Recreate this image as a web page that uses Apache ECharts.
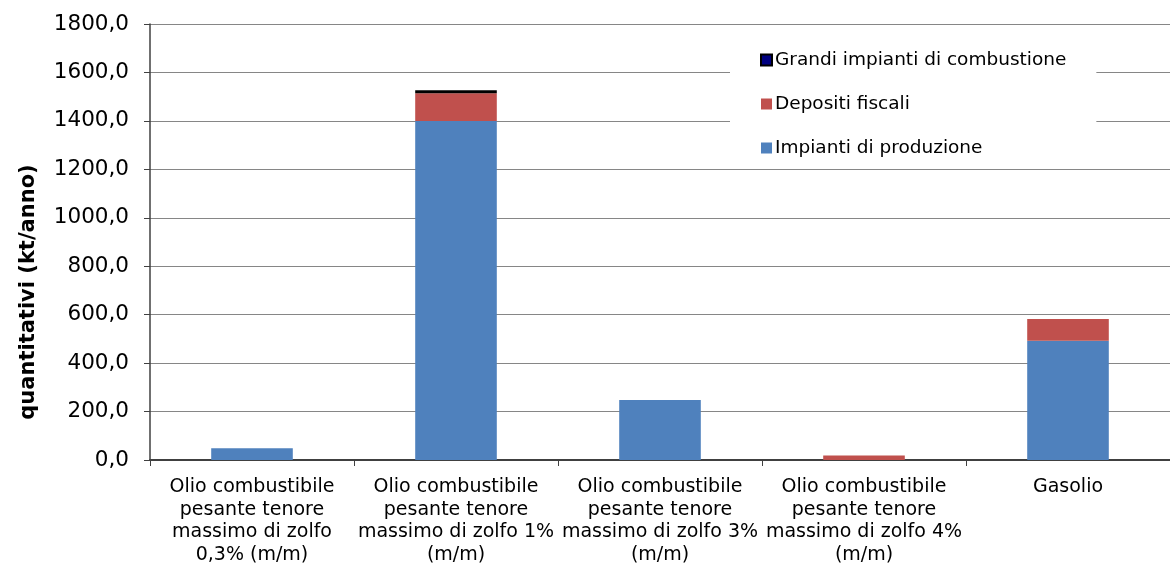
<!DOCTYPE html>
<html><head><meta charset="utf-8">
<script src="https://cdn.jsdelivr.net/npm/echarts@6/dist/echarts.min.js"></script>
<style>html,body{margin:0;padding:0;background:#fff}#c{width:1170px;height:569px}</style>
</head><body><div id="c"></div>
<script>
const categories = [
  "Olio combustibile\npesante tenore\nmassimo di zolfo\n0,3% (m/m)",
  "Olio combustibile\npesante tenore\nmassimo di zolfo 1%\n(m/m)",
  "Olio combustibile\npesante tenore\nmassimo di zolfo 3%\n(m/m)",
  "Olio combustibile\npesante tenore\nmassimo di zolfo 4%\n(m/m)",
  "Gasolio"
];
const impianti = [48, 1400, 248, null, 492];
const depositi = [null, 114, null, 19, 90];
const grandi = [null, 12, null, null, null];
const yTicks = {min: 0, max: 1800, interval: 200};
const yTitle = 'quantitativi (kt/anno)';

const chart = echarts.init(document.getElementById('c'));
const font = 'DejaVu Sans, Liberation Sans, sans-serif';
chart.setOption({
  animation: false,
  grid: {left: 150, right: -10, top: 24, bottom: 109, containLabel: false},
  legend: {
    orient: 'vertical', left: 730, top: 38, itemGap: 24, itemWidth: 11, itemHeight: 11,
    icon: 'rect',
    backgroundColor: '#fff', padding: [12, 30, 11, 30],
    textStyle: {fontFamily: font, fontSize: 18.5, color: '#000', lineHeight: 20, padding: [0, 0, 0, -2]},
    data: ['Grandi impianti di combustione', 'Depositi fiscali', 'Impianti di produzione']
  },
  graphic: [{
    type: 'text', x: 29, y: 292, rotation: Math.PI / 2,
    style: {text: yTitle, fontFamily: font, fontSize: 21, fontWeight: 'bold', fill: '#000',
      textAlign: 'center', textVerticalAlign: 'middle'}
  }],
  xAxis: {
    type: 'category', data: categories,
    axisLine: {lineStyle: {color: '#404040', width: 2}},
    axisTick: {show: true, length: 6, lineStyle: {color: '#404040'}},
    axisLabel: {fontFamily: font, fontSize: 19, color: '#000', lineHeight: 22.5, margin: 16, interval: 0}
  },
  yAxis: {
    type: 'value', min: yTicks.min, max: yTicks.max, interval: yTicks.interval,
    axisLine: {show: true, lineStyle: {color: '#404040', width: 1.5}},
    axisTick: {show: true, length: 6, lineStyle: {color: '#404040'}},
    axisLabel: {fontFamily: font, fontSize: 21.5, color: '#000', margin: 21,
      formatter: v => v.toFixed(1).replace('.', ',')},
    splitLine: {lineStyle: {color: '#868686', width: 1}}
  },
  series: [
    {name: 'Impianti di produzione', type: 'bar', stack: 's', data: impianti, barWidth: '40%',
      itemStyle: {color: '#4F81BD'}},
    {name: 'Depositi fiscali', type: 'bar', stack: 's', data: depositi,
      itemStyle: {color: '#C0504D'}},
    {name: 'Grandi impianti di combustione', type: 'bar', stack: 's', data: grandi,
      itemStyle: {color: '#000080', borderColor: '#000', borderWidth: 2.5}}
  ]
});
</script></body></html>
